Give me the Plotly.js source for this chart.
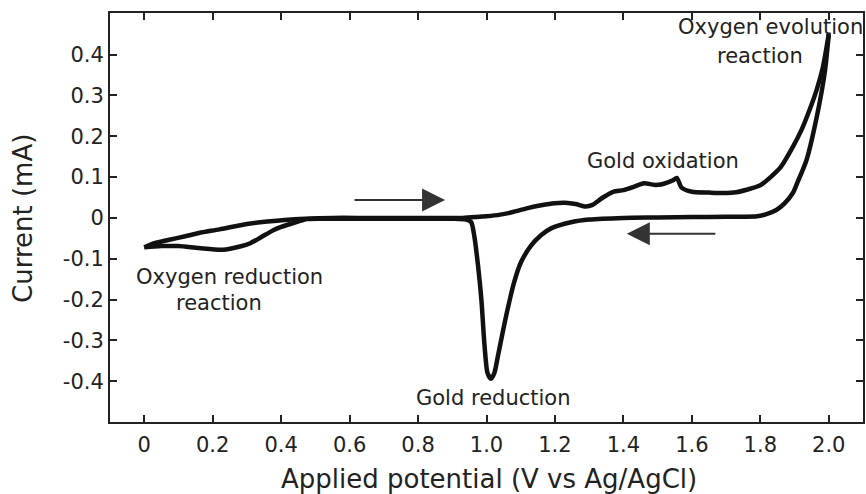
<!DOCTYPE html>
<html>
<head>
<meta charset="utf-8">
<script src="https://cdn.plot.ly/plotly-3.0.1.min.js"></script>
<style>html,body{margin:0;padding:0;background:#fff;}#chart{width:866px;height:494px;}</style>
</head>
<body>
<div id="chart"></div>
<script>
// Forward (anodic) scan, 0 V -> 2.0 V
var forwardPotential = [0.00, 0.03, 0.07, 0.12, 0.16, 0.22, 0.30, 0.36, 0.41, 0.47, 0.55, 0.65, 0.75, 0.85, 0.93, 0.97, 1.00, 1.04, 1.08, 1.12, 1.16, 1.20, 1.23, 1.26, 1.29, 1.31, 1.34, 1.37, 1.40, 1.43, 1.46, 1.49, 1.51, 1.53, 1.545, 1.556, 1.57, 1.60, 1.65, 1.69, 1.73, 1.76, 1.80, 1.83, 1.86, 1.895, 1.92, 1.944, 1.965, 1.983, 2.00];
var forwardCurrent   = [-0.072, -0.062, -0.054, -0.045, -0.037, -0.028, -0.015, -0.009, -0.005, -0.002, 0.000, 0.000, 0.000, 0.000, 0.000, 0.002, 0.004, 0.008, 0.015, 0.024, 0.031, 0.036, 0.037, 0.034, 0.028, 0.032, 0.050, 0.064, 0.068, 0.076, 0.085, 0.081, 0.082, 0.087, 0.092, 0.098, 0.074, 0.064, 0.062, 0.061, 0.063, 0.069, 0.080, 0.100, 0.125, 0.174, 0.215, 0.265, 0.315, 0.370, 0.450];
// Reverse (cathodic) scan, 2.0 V -> 0 V
var reversePotential = [2.00, 1.988, 1.965, 1.935, 1.91, 1.895, 1.87, 1.848, 1.82, 1.79, 1.75, 1.70, 1.60, 1.50, 1.40, 1.30, 1.25, 1.19, 1.16, 1.13, 1.10, 1.08, 1.06, 1.045, 1.033, 1.023, 1.013, 1.003, 0.994, 0.985, 0.975, 0.965, 0.955, 0.94, 0.90, 0.80, 0.70, 0.60, 0.52, 0.476, 0.435, 0.40, 0.377, 0.34, 0.31, 0.28, 0.23, 0.16, 0.10, 0.05, 0.00];
var reverseCurrent   = [0.450, 0.355, 0.248, 0.142, 0.090, 0.061, 0.035, 0.020, 0.010, 0.004, 0.003, 0.003, 0.002, 0.001, 0.000, -0.004, -0.010, -0.025, -0.042, -0.068, -0.110, -0.160, -0.230, -0.290, -0.340, -0.380, -0.394, -0.380, -0.310, -0.200, -0.115, -0.048, -0.010, -0.004, -0.002, -0.002, -0.002, -0.002, -0.002, -0.003, -0.013, -0.022, -0.030, -0.048, -0.062, -0.070, -0.078, -0.074, -0.069, -0.069, -0.072];

var xTickVals  = [0, 0.2, 0.4, 0.6, 0.8, 1.0, 1.2, 1.4, 1.6, 1.8, 2.0];
var xTickText  = ['0', '0.2', '0.4', '0.6', '0.8', '1.0', '1.2', '1.4', '1.6', '1.8', '2.0'];
var yTickVals  = [-0.4, -0.3, -0.2, -0.1, 0, 0.1, 0.2, 0.3, 0.4];
var yTickText  = ['-0.4', '-0.3', '-0.2', '-0.1', '0', '0.1', '0.2', '0.3', '0.4'];

var xTitle = 'Applied potential (V vs Ag/AgCl)';
var yTitle = 'Current (mA)';

var FONT = 'DejaVu Sans, Arial, sans-serif';
var TXT = '#222222';
var lineStyle = {color: '#111111', width: 4.5, shape: 'spline', smoothing: 0.7};

var traces = [
  {x: forwardPotential, y: forwardCurrent, mode: 'lines', line: lineStyle, hoverinfo: 'skip', showlegend: false},
  {x: reversePotential, y: reverseCurrent, mode: 'lines', line: lineStyle, hoverinfo: 'skip', showlegend: false}
];

function label(text, x, y) {
  return {text: text, x: x, y: y, xref: 'x', yref: 'y', showarrow: false,
          font: {family: FONT, size: 21, color: TXT}, xanchor: 'center', yanchor: 'middle'};
}
function arrow(x0, x1, y) {
  return {x: x1, y: y, ax: x0, ay: y, xref: 'x', yref: 'y', axref: 'x', ayref: 'y',
          text: '', showarrow: true, arrowhead: 2, arrowsize: 2.3, arrowwidth: 2, arrowcolor: '#333333'};
}

var axisCommon = {
  showline: true, linecolor: '#222222', linewidth: 2, mirror: 'ticks',
  ticks: 'inside', ticklen: 7, tickwidth: 2, tickcolor: '#222222',
  showgrid: false, zeroline: false,
  tickfont: {family: FONT, size: 21, color: TXT}
};

var layout = {
  width: 866, height: 494,
  margin: {l: 110, r: 3, t: 13, b: 72},
  paper_bgcolor: '#ffffff', plot_bgcolor: '#ffffff',
  xaxis: Object.assign({}, axisCommon, {
    range: [-0.1, 2.1], tickmode: 'array', tickvals: xTickVals, ticktext: xTickText,
    ticklabelstandoff: 3
  }),
  yaxis: Object.assign({}, axisCommon, {
    range: [-0.5, 0.502], tickmode: 'array', tickvals: yTickVals, ticktext: yTickText
  }),
  annotations: [
    {text: xTitle, xref: 'paper', yref: 'paper', x: 0.5033, y: -0.1394, showarrow: false,
     xanchor: 'center', yanchor: 'middle', font: {family: FONT, size: 26, color: TXT}},
    {text: yTitle, xref: 'paper', yref: 'paper', x: -0.1149, y: 0.4976, showarrow: false, textangle: -90,
     xanchor: 'center', yanchor: 'middle', font: {family: FONT, size: 26, color: TXT}},
    label('Oxygen evolution', 1.83, 0.468),
    label('reaction', 1.80, 0.397),
    label('Gold oxidation', 1.515, 0.140),
    label('Gold reduction', 1.02, -0.441),
    label('Oxygen reduction', 0.25, -0.145),
    label('reaction', 0.218, -0.208),
    arrow(0.61, 0.879, 0.044),
    arrow(1.673, 1.41, -0.039)
  ]
};

Plotly.newPlot('chart', traces, layout, {displayModeBar: false, staticPlot: true});
</script>
</body>
</html>
